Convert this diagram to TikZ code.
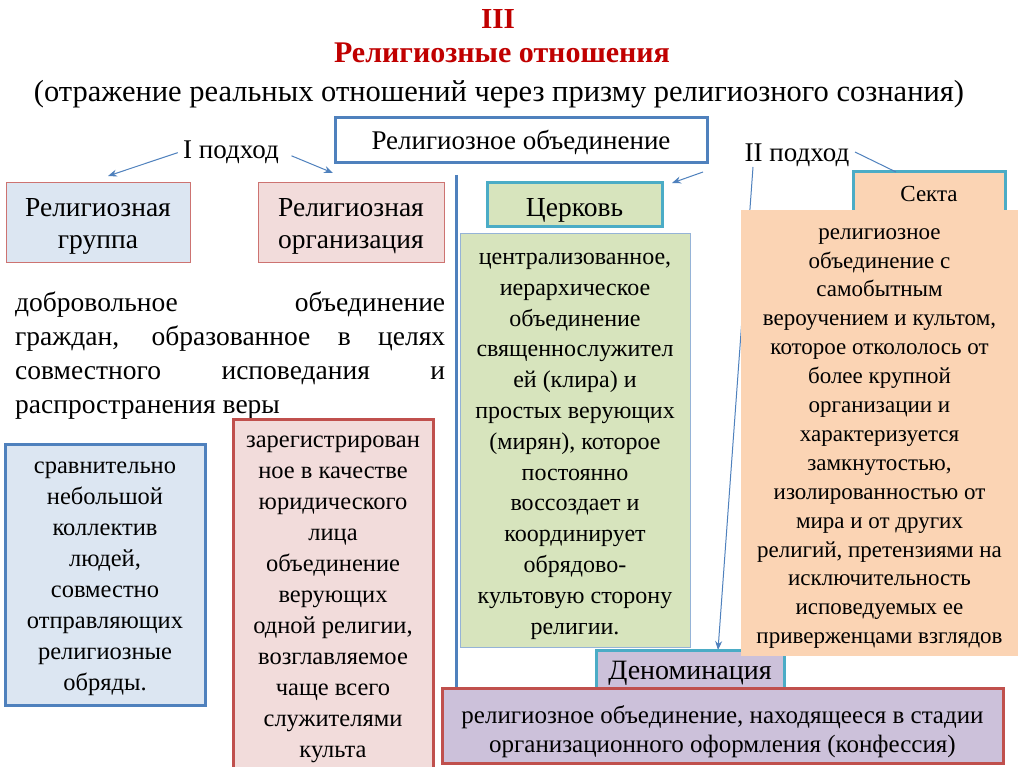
\documentclass[tikz,border=0pt]{standalone}
\usepackage{fontspec}
\setmainfont{Liberation Serif}
\usepackage{xcolor}
\usepackage{tikz}
\usetikzlibrary{arrows.meta,positioning}
\definecolor{lineblue}{HTML}{4F81BD}
\definecolor{linered}{HTML}{C0504D}
\definecolor{lineteal}{HTML}{4BACC6}
\definecolor{titlered}{HTML}{C00000}
\definecolor{grpfill}{HTML}{DCE6F2}
\definecolor{orgfill}{HTML}{F2DCDB}
\definecolor{churchfill}{HTML}{D7E4BD}
\definecolor{sectfill}{HTML}{FBD4B4}
\definecolor{denomfill}{HTML}{CCC1DA}
\newcommand{\setfs}[2]{\fontsize{#1}{#2}\selectfont}
\newcommand{\tstrut}[1]{\rule{0pt}{#1pt}}
\tikzset{
  endstrut/.style={execute at end node={\rule[-0.3\baselineskip]{0pt}{0pt}}},
  struts/.style={execute at begin node={\rule{0pt}{#1\baselineskip}}, endstrut},
  struts/.default=1.12,
  headbox/.style={draw=linered!80, line width=0.9pt, align=center, inner sep=0pt, endstrut},
  namebox/.style={draw=lineteal, line width=3pt, align=center, inner sep=0pt},
  descbox/.style={line width=3pt, align=center, inner sep=0pt, endstrut},
  pointarrow/.style={-{Stealth[length=9pt,width=7pt]}, draw=lineblue, line width=1pt},
  plainline/.style={draw=lineblue, line width=1pt}
}

\begin{document}
\begin{tikzpicture}[x=1pt, y=-1pt]
    \useasboundingbox[fill=white] (0,0) rectangle (1024,767);
    % title
    \node[text=titlered, font=\bfseries\setfs{29}{32}] (num) at (498,19) {III};
    \node[text=titlered, font=\bfseries\setfs{30}{32}] (title) at (502,53) {Религиозные отношения};
    \node[font=\setfs{30.5}{34}] (subtitle) at (499,94) {(отражение реальных отношений через призму религиозного сознания)};
    \node[draw=lineblue, line width=3pt, fill=white, minimum width=372pt, minimum height=45pt, font=\setfs{27}{30}, struts=0.9] (union) at (521,140.5) {Религиозное объединение};
    % approaches
    \node[font=\setfs{27}{30}] (appr1) at (231,152) {I подход};
    \node[font=\setfs{27}{30}] (appr2) at (797,155) {II подход};
    \coordinate (grptip) at (108,176);
    \coordinate (orgtip) at (333,173);
    \coordinate (churchtip) at (672,183);
    \coordinate (vtop) at (456,175);
    \coordinate (vbot) at (456,688);
    \draw[pointarrow, shorten <=2pt] (appr1.west) -- (grptip);
    \draw[pointarrow, shorten <=10pt] (appr1.east) -- (orgtip);
    \draw[lineblue, line width=3pt] (vtop) -- (vbot);
    % I approach
    \node[headbox, fill=grpfill, minimum width=184pt, minimum height=80pt, font=\setfs{27.5}{32}] (grp) at (98,222) {\tstrut{30}Религиозная\\группа};
    \node[headbox, fill=orgfill, minimum width=186pt, minimum height=80pt, font=\setfs{27.5}{32}] (org) at (351,222) {\tstrut{30}Религиозная\\организация};
    \node[anchor=north west, align=left, inner sep=0pt, font=\setfs{27.5}{34}] (defn) at (15,292) {%
      \makebox[430pt][s]{добровольное объединение}\\
      \makebox[430pt][s]{граждан, образованное в целях}\\
      \makebox[430pt][s]{совместного исповедания и}\\
      распространения веры};
    \node[descbox, draw=lineblue, fill=grpfill, minimum width=200pt, minimum height=261pt, font=\setfs{24.5}{31}] (grpdesc) at (105,574.5) {\tstrut{25}сравнительно\\небольшой\\коллектив\\людей,\\совместно\\отправляющих\\религиозные\\обряды.};
    \node[descbox, draw=linered, fill=orgfill, anchor=north, minimum width=200pt, minimum height=356pt] (orgdesc) at (333,418) {};
    \node[align=center, inner sep=0pt, font=\setfs{24.5}{31}] (orgtext) at (333,599) {зарегистрирован\\ное в качестве\\юридического\\лица\\объединение\\верующих\\одной религии,\\возглавляемое\\чаще всего\\служителями\\культа};
    % II approach
    \coordinate (c2start) at (703,172);
    \coordinate (sectstart) at (855,152);
    \coordinate (sectend) at (896,172);
    \coordinate (denomstart) at (753,167);
    \draw[pointarrow] (c2start) -- (churchtip);
    \draw[pointarrow] (denomstart) -- (718,650);
    \node[namebox, fill=churchfill, minimum width=175pt, minimum height=44pt, font=\setfs{27.5}{30}, struts=1.1] (church) at (574.5,205) {Церковь};
    \node[descbox, line width=0.8pt, draw=lineblue!60, fill=churchfill, minimum width=230pt, minimum height=414pt, font=\setfs{24}{30.8}] (churchdesc) at (575,440) {\tstrut{28}централизованное,\\иерархическое\\объединение\\священнослужител\\ей (клира) и\\простых верующих\\(мирян), которое\\постоянно\\воссоздает и\\координирует\\обрядово-\\культовую сторону\\религии.};
    \node[namebox, fill=sectfill, minimum width=152pt, minimum height=40pt, font=\setfs{23}{26}, struts=1.0] (sect) at (929,192) {Секта};
    \draw[plainline] (sectstart) -- (sectend);
    \node[namebox, fill=denomfill, minimum width=188pt, minimum height=40pt, font=\setfs{28}{30}, struts=0.9] (denom) at (690,670) {Деноминация};
    \node[descbox, fill=sectfill, minimum width=277pt, minimum height=446pt, font=\setfs{23}{28.9}] (sectdesc) at (879.5,433) {\tstrut{25.5}религиозное\\объединение с\\самобытным\\вероучением и культом,\\которое откололось от\\более крупной\\организации и\\характеризуется\\замкнутостью,\\изолированностью от\\мира и от других\\религий, претензиями на\\исключительность\\исповедуемых ее\\приверженцами взглядов};
    \node[descbox, draw=linered, fill=denomfill, minimum width=561pt, minimum height=75pt, font=\setfs{25}{29}] (denomdesc) at (722.5,725.5) {\tstrut{34}религиозное объединение, находящееся в стадии\\организационного оформления (конфессия)};
  \end{tikzpicture}
\end{document}
